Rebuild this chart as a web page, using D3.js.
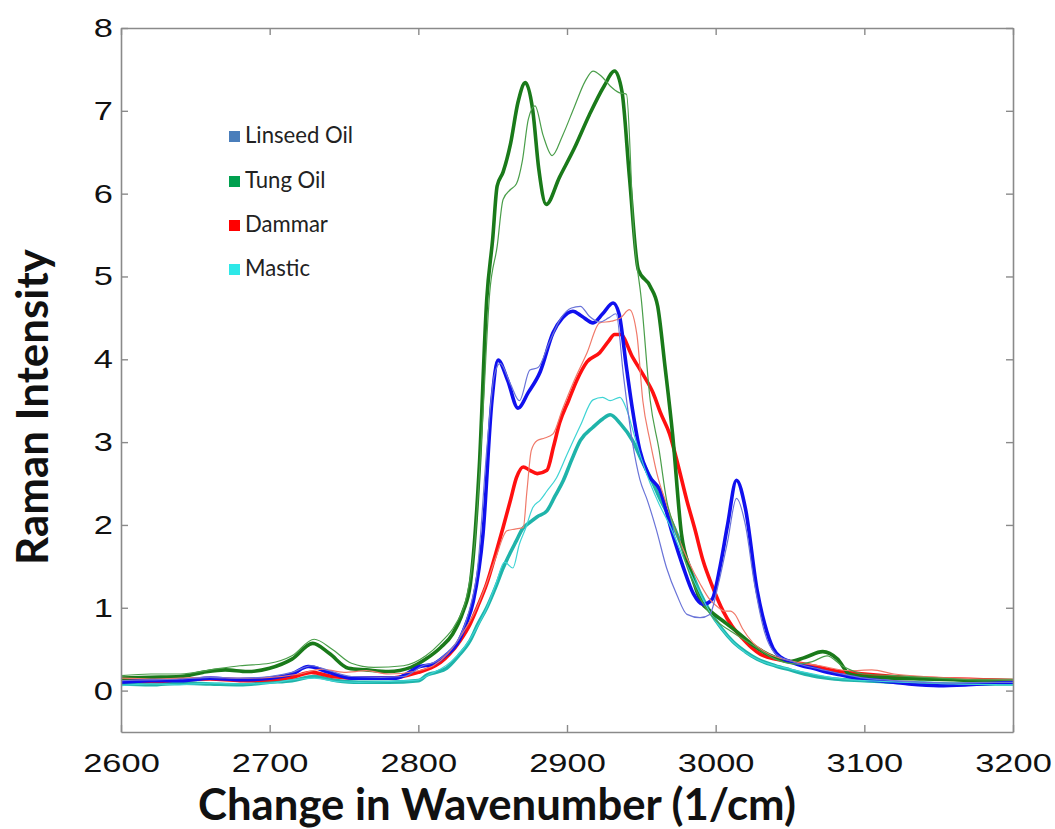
<!DOCTYPE html>
<html>
<head>
<meta charset="utf-8">
<script src="https://cdn.jsdelivr.net/npm/d3@7"></script>
<style>
  html, body { margin: 0; padding: 0; background: #fff; }
  svg { display: block; }
</style>
</head>
<body>
<svg id="chart" width="1055" height="829"></svg>
<script>
// ---------------- DATA ----------------
const xTicks = [2600, 2700, 2800, 2900, 3000, 3100, 3200];
const yTicks = [0, 1, 2, 3, 4, 5, 6, 7, 8];
const legendLabels = ["Linseed Oil", "Tung Oil", "Dammar", "Mastic"];

// Tung Oil (thick = measurement 1, thin = measurement 2)
const tungThickX = [2600,2620,2640,2655,2670,2685,2700,2715,2729,2740,2753,2765,2780,2795,2805,2815,2823,2830,2835,2841,2846,2850,2853,2857,2862,2867,2872,2877,2881,2886,2895,2905,2915,2925,2932,2937,2942,2948,2956,2961,2966,2971,2977,2983,2990,2997,3005,3015,3025,3040,3050,3060,3072,3082,3090,3100,3120,3140,3160,3180,3200];
const tungThickY = [0.15,0.16,0.17,0.22,0.25,0.23,0.27,0.38,0.57,0.45,0.27,0.25,0.23,0.28,0.38,0.52,0.68,0.95,1.29,2.7,4.72,5.45,6.09,6.26,6.6,7.1,7.34,7.0,6.3,5.87,6.2,6.55,6.95,7.3,7.48,7.23,6.2,5.08,4.88,4.64,3.9,3.1,1.89,1.45,1.08,0.95,0.84,0.7,0.55,0.4,0.35,0.4,0.47,0.38,0.2,0.17,0.15,0.14,0.13,0.12,0.12];
const tungThinX = [2600,2620,2640,2660,2680,2700,2715,2730,2742,2755,2770,2790,2805,2815,2825,2832,2838,2843,2848,2853,2857,2862,2866,2870,2874,2878.5,2884,2890,2897,2905,2912,2917.5,2923,2929,2935,2940,2945,2950,2956,2962,2967,2974,2981,2990,3000,3010,3025,3040,3055,3065,3075,3085,3100,3120,3150,3180,3200];
const tungThinY = [0.18,0.2,0.2,0.25,0.3,0.33,0.42,0.62,0.5,0.33,0.28,0.3,0.42,0.58,0.8,1.1,1.8,3.2,4.8,5.36,5.93,6.05,6.12,6.4,6.9,7.06,6.7,6.46,6.7,7.05,7.35,7.48,7.42,7.3,7.22,7.2,5.5,4.72,3.5,2.9,2.3,1.9,1.48,1.1,0.85,0.72,0.55,0.38,0.32,0.35,0.42,0.3,0.2,0.18,0.15,0.13,0.13];

// Linseed Oil
const linseedThickX = [2600,2620,2640,2660,2680,2700,2715,2726,2740,2755,2770,2785,2801,2810,2818,2826,2832,2837,2843.5,2849.5,2853.6,2860,2867,2874,2882,2890.6,2897,2904,2910,2917.5,2924,2931,2935,2940,2944,2949,2955,2962.5,2971,2978,2985,2991.5,2997.5,3003,3008,3014,3020,3028,3033,3038.6,3044,3050,3058,3065.6,3075,3083.6,3095,3110,3130,3150,3170,3200];
const linseedThickY = [0.1,0.12,0.12,0.15,0.13,0.15,0.2,0.29,0.22,0.15,0.15,0.15,0.29,0.32,0.42,0.56,0.8,1.08,1.89,3.5,3.99,3.75,3.41,3.6,3.85,4.32,4.5,4.58,4.52,4.44,4.55,4.68,4.55,3.9,3.4,2.9,2.6,2.42,1.89,1.5,1.17,1.04,1.1,1.5,2.0,2.54,2.2,1.2,0.8,0.51,0.4,0.35,0.3,0.27,0.22,0.19,0.15,0.12,0.08,0.06,0.07,0.1];
const linseedThinX = [2600,2620,2640,2660,2680,2700,2715,2728,2740,2755,2775,2790,2803,2812,2820,2828,2834,2840,2846,2851,2855,2862,2868,2875,2880.5,2888,2896,2903,2909,2915,2922,2928,2933,2938,2944,2949,2954,2960,2967,2974,2980.7,2989.5,2996,3002,3008,3014,3020,3026,3033,3040,3050,3060,3070,3085,3100,3120,3140,3160,3180,3200];
const linseedThinY = [0.12,0.13,0.14,0.16,0.15,0.17,0.22,0.3,0.24,0.17,0.16,0.17,0.3,0.35,0.47,0.65,0.95,1.5,2.9,3.8,3.95,3.7,3.5,3.87,3.9,4.2,4.5,4.62,4.64,4.52,4.45,4.5,4.55,3.8,3.0,2.55,2.3,1.95,1.48,1.15,0.92,0.88,0.92,1.3,1.8,2.32,2.0,1.3,0.7,0.45,0.36,0.3,0.26,0.2,0.15,0.12,0.1,0.09,0.1,0.1];

// Dammar
const dammarThickX = [2600,2620,2640,2660,2680,2700,2715,2728,2742,2760,2780,2800,2808,2815,2821,2828,2834.7,2840,2846,2852,2857,2862,2866,2870.6,2875,2880,2886.5,2891,2895,2901,2906.7,2913.5,2922,2928,2932,2936,2944,2951,2958,2963,2969,2975,2980.7,2986,2991.5,2998,3005,3011,3018,3024,3030,3040,3050,3065,3080,3100,3120,3140,3160,3180,3200];
const dammarThickY = [0.12,0.11,0.13,0.14,0.12,0.13,0.16,0.22,0.17,0.15,0.15,0.22,0.27,0.34,0.44,0.6,0.8,1.02,1.29,1.65,1.97,2.3,2.57,2.7,2.66,2.62,2.66,2.95,3.23,3.5,3.75,3.97,4.08,4.22,4.3,4.3,4.03,3.82,3.59,3.35,3.1,2.7,2.29,1.95,1.57,1.25,0.96,0.78,0.63,0.52,0.44,0.38,0.35,0.3,0.24,0.2,0.17,0.15,0.14,0.13,0.12];
const dammarThinX = [2600,2620,2640,2660,2680,2700,2720,2735,2750,2765,2780,2800,2810,2820,2830,2838,2846,2852,2859.6,2865,2870.6,2873,2876,2880,2885,2890.6,2897,2905,2913.5,2922,2930,2936,2942,2947,2951,2956,2960.5,2967,2974,2982,2989.5,2996,3002,3006,3010,3013,3018,3025,3035,3050,3070,3090,3105,3120,3140,3160,3180,3200];
const dammarThinY = [0.15,0.14,0.15,0.16,0.15,0.16,0.2,0.26,0.22,0.24,0.2,0.24,0.3,0.45,0.7,0.95,1.3,1.6,1.93,1.95,1.97,2.4,2.9,3.02,3.05,3.1,3.4,3.75,4.08,4.44,4.46,4.5,4.6,4.3,3.5,3.0,2.62,2.25,1.89,1.55,1.29,1.1,1.0,0.96,0.96,0.92,0.75,0.58,0.45,0.36,0.3,0.24,0.25,0.2,0.17,0.15,0.14,0.13];

// Mastic
const masticThickX = [2600,2620,2640,2660,2680,2700,2715,2730,2745,2760,2780,2800,2806,2812,2819,2827,2834.7,2840,2846,2852,2857,2862,2866,2870,2875,2880,2886.5,2892,2897.6,2903,2909,2917.5,2924,2929,2936,2944,2951,2958,2963,2969,2976,2982.7,2989,2996,3004,3011.7,3020,3028,3040,3050,3065,3080,3100,3120,3140,3160,3180,3200];
const masticThickY = [0.08,0.07,0.09,0.08,0.07,0.1,0.12,0.17,0.12,0.1,0.1,0.12,0.19,0.22,0.27,0.42,0.6,0.8,1.0,1.25,1.48,1.67,1.81,1.95,2.03,2.1,2.17,2.35,2.54,2.78,3.02,3.18,3.28,3.33,3.22,3.02,2.75,2.5,2.3,2.09,1.8,1.48,1.2,0.96,0.75,0.59,0.47,0.38,0.3,0.25,0.18,0.14,0.12,0.1,0.09,0.08,0.08,0.08];
const masticThinX = [2600,2620,2640,2660,2680,2700,2715,2730,2745,2760,2780,2800,2808,2815,2822,2830,2838,2846,2852,2858,2863.6,2868,2872,2877,2882,2886.5,2893,2900,2909,2917.5,2924,2929,2935.6,2940,2945,2950,2956,2962,2969,2976,2983,2990,2997,3005,3012,3020,3030,3045,3060,3080,3100,3130,3160,3200];
const masticThinY = [0.06,0.08,0.07,0.09,0.08,0.09,0.13,0.15,0.11,0.1,0.11,0.13,0.2,0.26,0.35,0.5,0.72,1.0,1.28,1.55,1.48,1.77,1.95,2.21,2.3,2.41,2.57,2.85,3.2,3.51,3.54,3.5,3.54,3.4,3.1,2.8,2.5,2.25,2.0,1.7,1.42,1.15,0.92,0.72,0.58,0.46,0.36,0.28,0.22,0.15,0.12,0.1,0.08,0.07];

// ---------------- STYLE / LAYOUT ----------------
const svg = d3.select("#chart");
const PL = 121, PR = 1013, PT = 28, PB = 732;
const xScale = d3.scaleLinear().domain([2600, 3200]).range([PL, PR]);
const yScale = d3.scaleLinear().domain([-0.5, 8]).range([PB, PT]);
const axisColor = "#8a8a8a";

const series = [
  { X: masticThickX, Y: masticThickY, color: "#1fb4aa", w: 3.6 },
  { X: dammarThickX, Y: dammarThickY, color: "#ff1010", w: 3.6 },
  { X: tungThickX, Y: tungThickY, color: "#1a7a1a", w: 3.6 },
  { X: linseedThickX, Y: linseedThickY, color: "#1010ee", w: 3.6 },
  { X: masticThinX, Y: masticThinY, color: "#3fd4d4", w: 1.2 },
  { X: dammarThinX, Y: dammarThinY, color: "#f07a6a", w: 1.2 },
  { X: tungThinX, Y: tungThinY, color: "#4a9e4a", w: 1.2 },
  { X: linseedThinX, Y: linseedThinY, color: "#6a74d8", w: 1.2 }
];

svg.append("defs").append("clipPath").attr("id", "clip")
  .append("rect").attr("x", PL).attr("y", PT).attr("width", PR - PL).attr("height", PB - PT);

const lineGen = d3.line()
  .x(d => xScale(d[0]))
  .y(d => yScale(d[1]))
  .curve(d3.curveMonotoneX);

const plotG = svg.append("g").attr("clip-path", "url(#clip)");
series.forEach(s => {
  const pts = s.X.map((v, i) => [v, s.Y[i]]);
  plotG.append("path").datum(pts)
    .attr("d", lineGen)
    .attr("fill", "none")
    .attr("stroke", s.color)
    .attr("stroke-width", s.w)
    .attr("stroke-linejoin", "round")
    .attr("stroke-linecap", "round");
});

function fitWidth(sel, target) {
  const fs = parseFloat(sel.style("font-size"));
  const w = sel.node().getComputedTextLength();
  if (w > 0) sel.style("font-size", (fs * target / w) + "px");
}

// Axes (box with inward ticks)
const tickFont = "'Liberation Sans', Arial, Helvetica, sans-serif";
const stretch = 1.3;
const axBottom = svg.append("g").attr("transform", `translate(0,${PB})`)
  .call(d3.axisBottom(xScale).tickValues(xTicks).tickSizeInner(-7).tickSizeOuter(0).tickPadding(21).tickFormat(d3.format("d")));
const axTop = svg.append("g").attr("transform", `translate(0,${PT})`)
  .call(d3.axisTop(xScale).tickValues(xTicks).tickSizeInner(-7).tickSizeOuter(0).tickFormat(""));
const axLeft = svg.append("g").attr("transform", `translate(${PL},0)`)
  .call(d3.axisLeft(yScale).tickValues(yTicks).tickSizeInner(-7).tickSizeOuter(0).tickPadding(8).tickFormat(d3.format("d")));
const axRight = svg.append("g").attr("transform", `translate(${PR},0)`)
  .call(d3.axisRight(yScale).tickValues(yTicks).tickSizeInner(-7).tickSizeOuter(0).tickFormat(""));

[axBottom, axTop, axLeft, axRight].forEach(a => {
  a.select(".domain").attr("stroke", axisColor).attr("stroke-width", 1.6);
  a.selectAll(".tick line").attr("stroke", axisColor).attr("stroke-width", 1.4);
  a.selectAll(".tick text").attr("fill", "#111").style("font-family", tickFont).style("font-size", "26.5px");
});
// horizontally stretched tick labels, as in the reference
axLeft.selectAll(".tick text").attr("x", -8 / stretch).attr("transform", `scale(${stretch},1)`);
axBottom.selectAll(".tick text").attr("transform", `scale(${stretch},1)`);

// Axis titles
const titleFont = "Lato, 'Open Sans', sans-serif";
const xt = svg.append("text")
  .attr("x", 497).attr("y", 820)
  .attr("text-anchor", "middle")
  .style("font-family", titleFont).style("font-weight", "bold").style("font-size", "34px")
  .attr("fill", "#111")
  .text("Change in Wavenumber (1/cm)");
fitWidth(xt, 598);

const yt = svg.append("text")
  .attr("transform", "translate(48,407) rotate(-90)")
  .attr("text-anchor", "middle")
  .style("font-family", titleFont).style("font-weight", "bold").style("font-size", "34px")
  .attr("fill", "#111")
  .text("Raman Intensity");
fitWidth(yt, 316);

// Legend
const legendColors = ["#4a7ebb", "#00a04f", "#ff0000", "#2ee8e8"];
const legendTop = [131, 176, 220, 264];
const lg = svg.append("g");
let legendFs = null;
legendLabels.forEach((lab, i) => {
  lg.append("rect").attr("x", 229).attr("y", legendTop[i]).attr("width", 11).attr("height", 11)
    .attr("fill", legendColors[i]);
  const t = lg.append("text").attr("x", 245).attr("y", legendTop[i] + 11.5)
    .style("font-family", titleFont).style("font-size", legendFs || "18px").attr("fill", "#222")
    .text(lab);
  if (i === 0) { fitWidth(t, 108); legendFs = t.style("font-size"); }
});
</script>
</body>
</html>
